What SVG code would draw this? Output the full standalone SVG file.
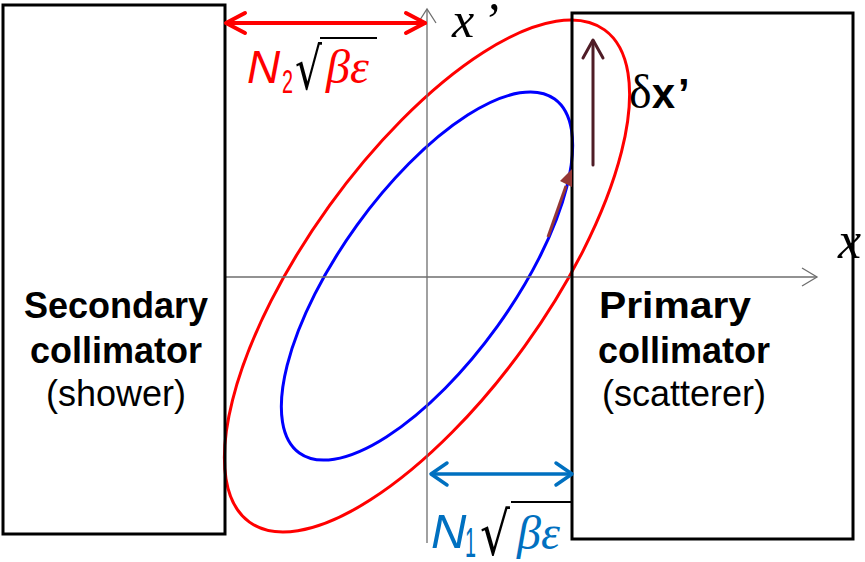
<svg xmlns="http://www.w3.org/2000/svg" width="865" height="562" viewBox="0 0 865 562">
<defs>
<style>
.box{fill:none;stroke:#000;stroke-width:3}
.axis{fill:none;stroke:#6e6e6e;stroke-width:1.3}
.ell{fill:none;stroke-width:3}
.lbl{font-family:"Liberation Sans",Arial,sans-serif;font-size:36px;fill:#000;text-anchor:middle}
.b{font-weight:bold}
.it{font-family:"Liberation Serif","Times New Roman",serif;font-style:italic}
.serif{font-family:"Liberation Serif","Times New Roman",serif}
.sans{font-family:"Liberation Sans",Arial,sans-serif}
.rad{font-family:"DejaVu Sans",sans-serif}
</style>
</defs>
<rect width="865" height="562" fill="#fff"/>
<g id="emittance-red">
<ellipse class="ell" stroke="#FF0000" cx="427" cy="276" rx="303.5" ry="120.3" transform="rotate(-54.2 427 276)"/>
</g>
<g id="emittance-blue">
<ellipse class="ell" stroke="#0000FF" cx="427" cy="276" rx="218.2" ry="86.5" transform="rotate(-54.2 427 276)"/>
</g>
<g id="axes">
<line class="axis" x1="427" y1="543" x2="427" y2="9"/>
<polyline class="axis" points="418,23 427,9 436,23"/>
<line class="axis" x1="225" y1="277" x2="817" y2="277"/>
<polyline class="axis" points="802,268 817,277 802,286"/>
<text class="it" x="452" y="37" font-size="50">x<tspan dx="8">’</tspan></text>
<text class="it" x="838" y="258" font-size="52">x</text>
</g>
<g id="secondary-collimator">
<rect class="box" x="3" y="5" width="222" height="529"/>
<text class="lbl b" x="116" y="318">Secondary</text>
<text class="lbl b" x="116" y="363">collimator</text>
<text class="lbl" x="116" y="406">(shower)</text>
</g>
<g id="primary-collimator">
<rect class="box" x="572" y="13" width="281" height="526"/>
<text class="lbl b" x="675" y="318" textLength="152" lengthAdjust="spacingAndGlyphs">Primary</text>
<text class="lbl b" x="684" y="363">collimator</text>
<text class="lbl" x="684" y="406">(scatterer)</text>
</g>
<g id="connectors">
<g stroke="#FF0000" stroke-width="4" fill="none" stroke-linecap="round" stroke-linejoin="round">
<line x1="227" y1="23" x2="425" y2="23"/>
<polyline points="245,13 226,23 245,33"/>
<polyline points="406,13 425,23 406,33"/>
</g>
<g stroke="#0070C0" stroke-width="3.5" fill="none" stroke-linecap="round" stroke-linejoin="round">
<line x1="432" y1="474" x2="571" y2="474"/>
<polyline points="447,463 431,474 447,485"/>
<polyline points="556,463 572,474 556,485"/>
</g>
<g stroke="#4F1C26" stroke-width="3" fill="none" stroke-linecap="round" stroke-linejoin="round">
<line x1="593" y1="165" x2="593" y2="41"/>
<polyline points="583,58 593,40 603,58"/>
</g>
<line x1="548" y1="237" x2="566" y2="186" stroke="#953735" stroke-width="3"/>
<polygon points="572,169 572,187 560,181" fill="#953735"/>
</g>
<g id="label-n2">
<text x="247" y="83" class="sans" font-style="italic" font-size="46" fill="#FF0000">N</text>
<text x="282" y="93" class="sans" font-size="33" fill="#FF0000" textLength="11" lengthAdjust="spacingAndGlyphs">2</text>
<text x="295" y="89" class="rad" font-size="58" fill="#000" textLength="27" lengthAdjust="spacingAndGlyphs">√</text>
<line x1="320" y1="38" x2="377" y2="38" stroke="#000" stroke-width="2"/>
<text x="326" y="83" class="it" font-size="48" fill="#FF0000">βε</text>
</g>
<g id="label-n1">
<text x="431" y="548" class="sans" font-style="italic" font-size="49" fill="#0070C0">N</text>
<text x="465" y="557" class="sans" font-size="42" fill="#0070C0" textLength="11" lengthAdjust="spacingAndGlyphs">1</text>
<text x="480" y="555" class="rad" font-size="60" fill="#000" textLength="30" lengthAdjust="spacingAndGlyphs">√</text>
<line x1="511" y1="502" x2="572" y2="502" stroke="#000" stroke-width="2"/>
<text x="517" y="549" class="it" font-size="48" fill="#0070C0">βε</text>
</g>
<g id="label-dx">
<text x="629" y="108" font-size="42" fill="#000"><tspan class="serif" font-size="48">δ</tspan><tspan class="sans" font-weight="bold">x</tspan><tspan class="sans" font-weight="bold" dx="3">’</tspan></text>
</g>
</svg>
